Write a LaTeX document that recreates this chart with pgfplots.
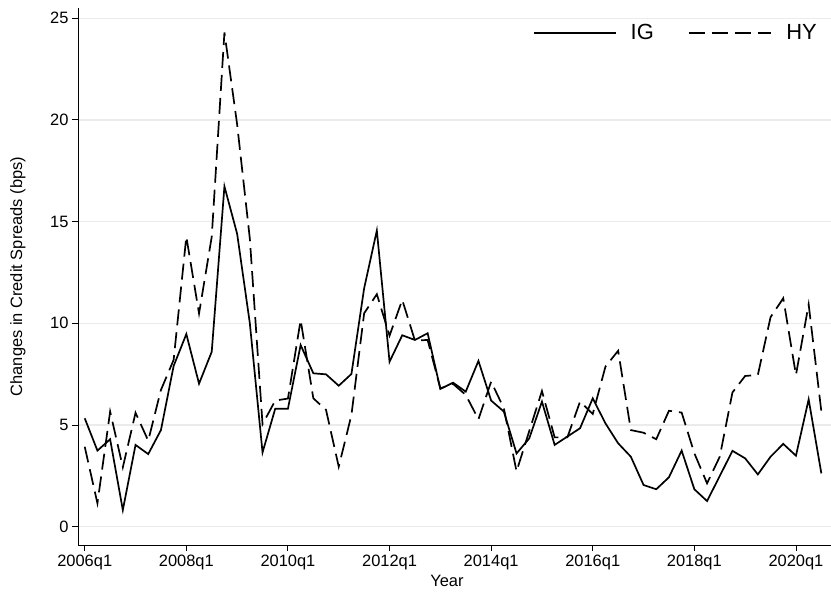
\documentclass[border=0pt]{standalone}
\usepackage{fontspec}
\setmainfont{Liberation Sans}
\usepackage{pgfplots}
\usepackage{pgfplotstable}
\pgfplotsset{compat=1.18}
\pgfplotstableread{
i IG HY
0 5.33 3.93
1 3.74 1.15
2 4.30 5.66
3 0.82 2.92
4 4.02 5.60
5 3.57 4.23
6 4.75 6.72
7 7.90 8.20
8 9.47 14.26
9 7.03 10.48
10 8.60 14.25
11 16.73 24.30
12 14.40 19.78
13 10.00 14.16
14 3.65 5.04
15 5.80 6.20
16 5.80 6.30
17 8.93 10.16
18 7.54 6.31
19 7.49 5.74
20 6.93 2.95
21 7.51 5.49
22 11.72 10.49
23 14.56 11.43
24 8.11 9.39
25 9.41 11.15
26 9.18 9.15
27 9.51 9.18
28 6.77 6.80
29 7.08 7.02
30 6.64 6.48
31 8.15 5.28
32 6.20 7.13
33 5.66 5.82
34 3.60 2.72
35 4.34 4.70
36 6.15 6.67
37 4.02 4.39
38 4.43 4.39
39 4.84 6.15
40 6.31 5.54
41 5.08 7.87
42 4.10 8.65
43 3.44 4.75
44 2.05 4.62
45 1.84 4.30
46 2.43 5.70
47 3.74 5.61
48 1.84 3.61
49 1.26 2.13
50 2.49 3.44
51 3.73 6.60
52 3.36 7.41
53 2.57 7.46
54 3.44 10.30
55 4.07 11.23
56 3.49 7.46
57 6.26 10.93
58 2.62 5.66
}\data
\begin{document}
\begin{tikzpicture}
\begin{axis}[
  scale only axis,
  width=753bp, height=537bp,
  xmin=-0.53, xmax=58.76,
  ymin=-0.9, ymax=25.5,
  axis x line=bottom, axis y line=left,
  axis line style={-, line width=0.9bp, black},
  tick align=outside,
  major tick length=6bp,
  tick style={black, line width=0.9bp},
  xtick={0,8,16,24,32,40,48,56},
  xticklabels={2006q1,2008q1,2010q1,2012q1,2014q1,2016q1,2018q1,2020q1},
  ytick={0,5,10,15,20,25},
  ymajorgrids,
  grid style={color=black!8, line width=1.3bp},
  tick label style={font=\fontsize{16.5}{19}\selectfont},
  xticklabel style={yshift=-1bp},
  /pgf/number format/assume math mode=true,
  xlabel={Year},
  ylabel={Changes in Credit Spreads (bps)},
  label style={font=\fontsize{16.5}{19}\selectfont},
  xlabel style={at={(axis description cs:0.49,0)}, anchor=center, yshift=-36bp},
  ylabel style={at={(axis description cs:0,0.5)}, anchor=center, yshift=60bp},
  legend style={at={(axis description cs:1,1)}, anchor=east, xshift=-14bp, yshift=-25bp,
    draw=none, fill=none, inner sep=0pt,
    font=\fontsize{22}{26}\selectfont, column sep=0bp,
    nodes={inner sep=0bp}},
  legend columns=2,
  legend image code/.code={\draw[#1] (0bp,0bp) -- (82bp,0bp);},
]
\addplot[black, line width=1.7bp] table[x=i, y=IG] {\data};
\addlegendentry{\hspace*{14bp}\makebox[57bp][l]{IG}}
\addplot[black, line width=1.7bp, dash pattern=on 16bp off 7bp] table[x=i, y=HY] {\data};
\addlegendentry{\hspace*{15bp}HY}
\end{axis}
\pgfresetboundingbox
\path[use as bounding box] ([xshift=-78bp,yshift=-47bp]current axis.south west) rectangle ([yshift=8bp]current axis.north east);
\end{tikzpicture}
\end{document}
